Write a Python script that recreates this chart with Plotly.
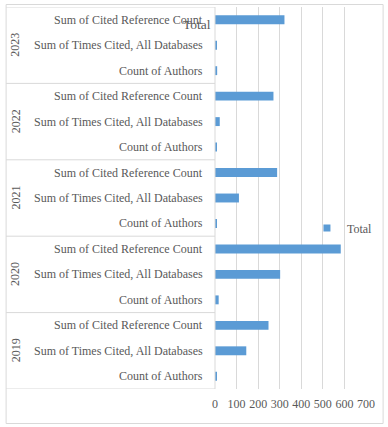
import plotly.graph_objects as go

years = ["2019", "2020", "2021", "2022", "2023"]
metrics = ["Count of Authors", "Sum of Times Cited, All Databases", "Sum of Cited Reference Count"]
count_of_authors = [8, 17, 5, 6, 10]
sum_times_cited = [145, 302, 111, 22, 5]
sum_cited_refs = [248, 583, 288, 271, 322]
x_ticks = [0, 100, 200, 300, 400, 500, 600, 700]

series = {metrics[0]: count_of_authors, metrics[1]: sum_times_cited, metrics[2]: sum_cited_refs}

cats, vals = [], []
for i, yr in enumerate(years):
    for m in metrics:
        cats.append(f"{yr} | {m}")
        vals.append(series[m][i])

FONT = "Liberation Serif"
TXT = "#595959"
GRID = "#D9D9D9"
BLUE = "#5B9BD5"

W, H = 388, 427
L, R, T, B = 214.5, 21.7, 7, 38
pw = W - L - R
ph = H - T - B

def px2paper_x(px):
    return (px - L) / pw

def px2paper_y(py):
    return (H - B - py) / ph

fig = go.Figure()
fig.add_trace(go.Bar(
    x=vals, y=cats, orientation="h", marker=dict(color=BLUE, line=dict(width=0)),
    width=0.35, showlegend=False, hoverinfo="skip", name="Total",
))
fig.add_trace(go.Scatter(
    x=[None], y=[None], mode="markers", name="Total",
    marker=dict(symbol="square", size=7, color=BLUE), showlegend=True,
))

annotations = []
shapes = []
for i, c in enumerate(cats):
    m = c.split(" | ")[1]
    annotations.append(dict(
        x=0, xref="paper", y=c, yref="y", text=m, showarrow=False,
        xanchor="right", yanchor="middle", xshift=-10,
        font=dict(family=FONT, size=12, color=TXT),
    ))
for gi, yr in enumerate(years):
    annotations.append(dict(
        x=px2paper_x(14), xref="paper", y=gi * 3 + 1, yref="y", text=yr, showarrow=False,
        textangle=-90, xanchor="center", yanchor="middle",
        font=dict(family=FONT, size=12, color=TXT),
    ))
for b in [-0.5, 2.5, 5.5, 8.5, 11.5, 14.5]:
    shapes.append(dict(type="line", xref="paper", yref="y",
                       x0=px2paper_x(4.5), x1=0, y0=b, y1=b,
                       line=dict(color=GRID, width=1)))
shapes.append(dict(type="line", xref="paper", yref="paper",
                   x0=0, x1=0, y0=0, y1=1, line=dict(color=GRID, width=1)))
shapes.append(dict(type="rect", xref="paper", yref="paper",
                   x0=px2paper_x(4.5), x1=px2paper_x(383.5),
                   y0=px2paper_y(423.5), y1=px2paper_y(4.5),
                   line=dict(color=GRID, width=1), fillcolor="rgba(0,0,0,0)"))

annotations.append(dict(
    x=px2paper_x(196), xref="paper", y=px2paper_y(25), yref="paper", text="Total",
    showarrow=False, xanchor="center", yanchor="middle",
    font=dict(family=FONT, size=13.5, color=TXT),
))

fig.update_layout(
    width=W, height=H,
    margin=dict(l=L, r=R, t=T, b=B, pad=0, autoexpand=False),
    paper_bgcolor="white", plot_bgcolor="white",
    font=dict(family=FONT, size=12, color=TXT),
    xaxis=dict(range=[0, 700], tickvals=x_ticks, showgrid=True, gridcolor=GRID, gridwidth=1,
               zeroline=False, showline=False, ticks="outside", ticklen=4, tickcolor="rgba(0,0,0,0)",
               tickangle=0, automargin=False,
               tickfont=dict(family=FONT, size=12, color=TXT), fixedrange=True),
    yaxis=dict(type="category", categoryorder="array", categoryarray=cats, range=[-0.5, 14.5],
               showticklabels=False, showgrid=False, zeroline=False, showline=False, fixedrange=True,
               automargin=False),
    legend=dict(x=px2paper_x(319), xanchor="left", y=px2paper_y(228), yanchor="middle",
                bgcolor="rgba(0,0,0,0)", font=dict(family=FONT, size=12, color=TXT),
                itemwidth=30, borderwidth=0, indentation=-12),
    annotations=annotations, shapes=shapes,
    showlegend=True,
)

fig.write_html("out.html", config={"displayModeBar": False},
               post_script="document.body.style.margin='0px';")
